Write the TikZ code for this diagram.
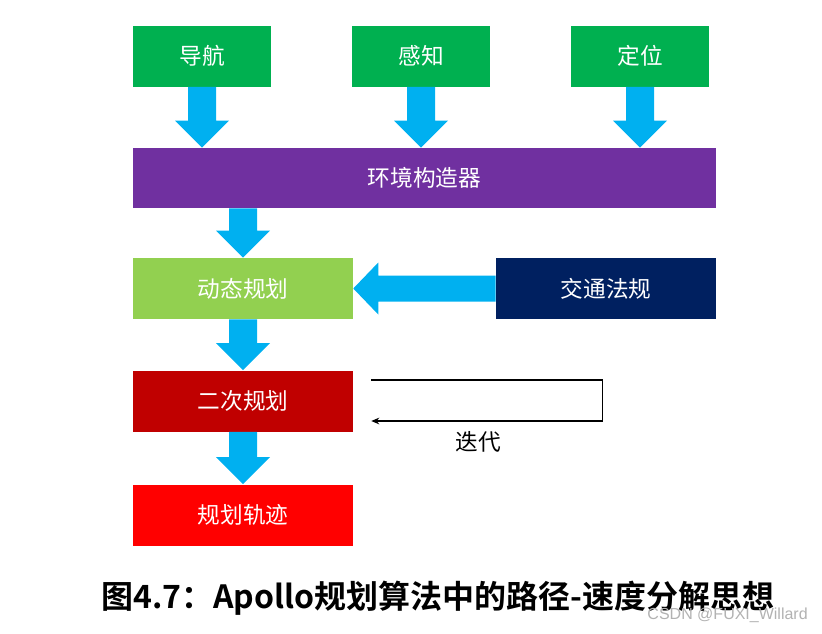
\documentclass[tikz,border=0pt]{standalone}
\usepackage{fontspec}
\newfontfamily\cjk{Noto Sans CJK SC}[BoldFont={Noto Sans CJK SC Bold}]
\newfontfamily\wmfont{Liberation Sans}
\usetikzlibrary{calc,arrows.meta}
\definecolor{topgreen}{HTML}{00B050}
\definecolor{envpurple}{HTML}{7030A0}
\definecolor{dpgreen}{HTML}{92D050}
\definecolor{rulenavy}{HTML}{002060}
\definecolor{qpred}{HTML}{C00000}
\definecolor{trajred}{HTML}{FF0000}
\definecolor{arrowblue}{HTML}{00B0F0}
\tikzset{
  box/.style={draw=none, inner sep=0pt, minimum height=61*0.75pt, text=white, font=\cjk\fontsize{17}{19}\selectfont},
  looparrow/.style={line width=1.1pt, -{Stealth[length=6pt,width=5pt]}}
}
\newcommand{\blockdown}[3]{% x-node, from, to
  \fill[arrowblue] ($(#1 |- #2.south)+(-14,0)$) -- ($(#1 |- #2.south)+(14,0)$)
    -- ($(#1 |- #3.north)+(14,-27)$) -- ($(#1 |- #3.north)+(27,-27)$)
    -- (#1 |- #3.north) -- ($(#1 |- #3.north)+(-27,-27)$)
    -- ($(#1 |- #3.north)+(-14,-27)$) -- cycle;}
\begin{document}
\begin{tikzpicture}[x=0.75pt,y=-0.75pt]
\useasboundingbox (0,0) rectangle (822,633);
% top boxes
\node[box, fill=topgreen, minimum width=138*0.75pt] (nav) at (202,56) {导航};
\node[box, fill=topgreen, minimum width=138*0.75pt] (per) at (421,56) {感知};
\node[box, fill=topgreen, minimum width=138*0.75pt] (loc) at (640,56) {定位};
% environment
\node[box, fill=envpurple, minimum width=583*0.75pt, minimum height=60*0.75pt] (env) at (424.5,178) {环境构造器};
% planning
\node[box, fill=dpgreen, minimum width=220*0.75pt] (dp) at (243,288.5) {动态规划};
\node[box, fill=rulenavy, minimum width=220*0.75pt] (rule) at (606,288.5) {交通法规};
\node[box, fill=qpred, minimum width=220*0.75pt] (qp) at (243,401) {二次规划};
\node[box, fill=trajred, minimum width=220*0.75pt] (traj) at (243,515) {规划轨迹};
% block arrows
\blockdown{nav}{nav}{env}
\blockdown{per}{per}{env}
\blockdown{loc}{loc}{env}
\blockdown{dp}{env}{dp}
\blockdown{dp}{dp}{qp}
\blockdown{traj}{qp}{traj}
% left arrow
\fill[arrowblue] ($(rule.west)+(0,-13)$) -- ($(rule.west)+(0,13)$)
  -- ($(dp.east)+(25,13)$) -- ($(dp.east)+(25,26)$) -- (dp.east)
  -- ($(dp.east)+(25,-26)$) -- ($(dp.east)+(25,-13)$) -- cycle;
% iteration loop
\coordinate (l1) at ($(qp.east)+(18,-21)$);
\coordinate (l2) at ($(qp.east)+(249,-21)$);
\coordinate (l3) at ($(qp.east)+(249,20)$);
\coordinate (l4) at ($(qp.east)+(18,20)$);
\draw[looparrow] (l1) -- (l2) -- (l3) -- (l4);
\node[font=\cjk\fontsize{17}{19}\selectfont, inner sep=0pt] (iter) at (478,442) {迭代};
% caption
\node[font=\cjk\bfseries\fontsize{24}{28}\selectfont, inner sep=0pt] (cap) at (438,598) {图4.7：Apollo规划算法中的路径-速度分解思想};
\node[font=\wmfont\fontsize{12}{14}\selectfont, text=black!30, anchor=east, inner sep=0pt] (wm) at (808,615) {CSDN @FUXI\_Willard};
\end{tikzpicture}
\end{document}
